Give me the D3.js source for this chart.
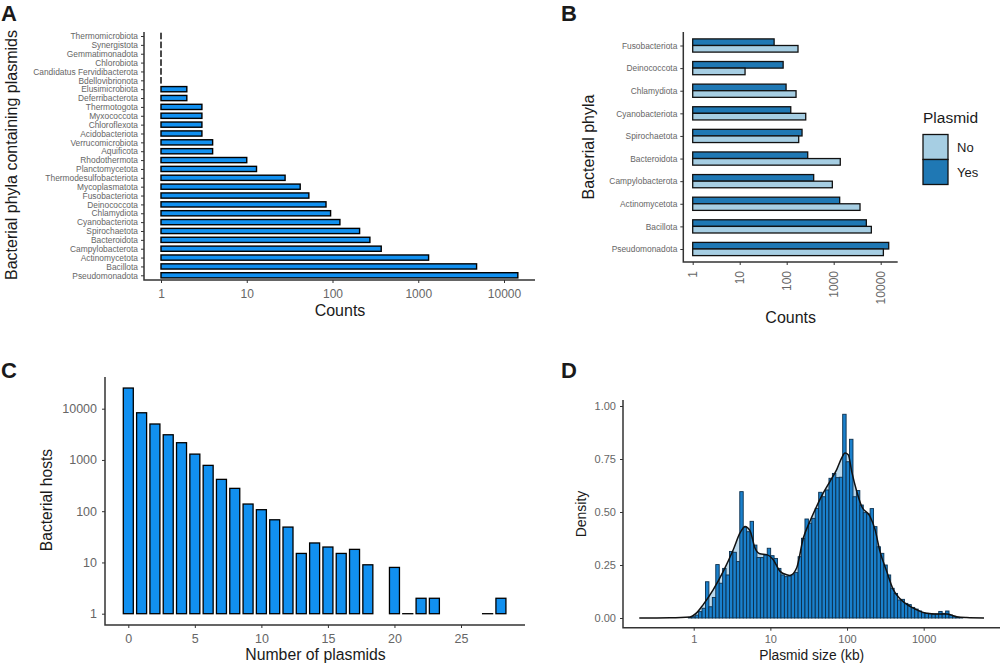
<!DOCTYPE html>
<html>
<head>
<meta charset="utf-8">
<script src="https://cdn.jsdelivr.net/npm/d3@7"></script>
<style>
  html, body { margin: 0; padding: 0; background: #fff; }
  svg { display: block; }
  text { font-family: "Liberation Sans", Arial, sans-serif; }
</style>
</head>
<body>
<svg id="fig" width="1000" height="663"></svg>
<script>
// panel A
const phylaA = ['Thermomicrobiota', 'Synergistota', 'Gemmatimonadota', 'Chlorobiota',
  'Candidatus Fervidibacterota', 'Bdellovibrionota', 'Elusimicrobiota', 'Deferribacterota',
  'Thermotogota', 'Myxococcota', 'Chloroflexota', 'Acidobacteriota', 'Verrucomicrobiota',
  'Aquificota', 'Rhodothermota', 'Planctomycetota', 'Thermodesulfobacteriota', 'Mycoplasmatota',
  'Fusobacteriota', 'Deinococcota', 'Chlamydiota', 'Cyanobacteriota', 'Spirochaetota',
  'Bacteroidota', 'Campylobacterota', 'Actinomycetota', 'Bacillota', 'Pseudomonadota']
const countsA = [1, 1, 1, 1, 1, 1, 2, 2, 3, 3, 3, 3, 4, 4, 10, 13, 28, 42, 53, 84, 95, 122, 207,
  273, 370, 1320, 4790, 14500]

// panel B
const phylaB = ['Fusobacteriota', 'Deinococcota', 'Chlamydiota', 'Cyanobacteriota', 'Spirochaetota',
  'Bacteroidota', 'Campylobacterota', 'Actinomycetota', 'Bacillota', 'Pseudomonadota']
const countsYes = [54, 84, 97, 122, 212, 280, 375, 1340, 4950, 14800]
const countsNo = [174, 13, 158, 254, 180, 1380, 935, 3630, 6320, 11400]

// panel C
const plasmidNumber = [0, 1, 2, 3, 4, 5, 6, 7, 8, 9, 10, 11, 12, 13, 14, 15, 16, 17, 18, 20, 21, 22, 23, 27, 28]
const hostCounts = [25300, 8330, 5030, 3100, 2170, 1300, 784, 418, 279, 138, 107, 68, 49, 15, 24, 20,
  15, 18, 9, 8, 1, 2, 2, 1, 2]

// panel D, histogram bins (log10 kb, left edge of the first bin and bin width)
const firstBinLog = -0.07
const binWidthLog = 0.04474
const binDensity = [.003, .006, .014, .030, .046, .171, .053, .097, .252, .164, .234, .203, .314, .310,
  .266, .596, .428, .407, .456, .344, .285, .285, .297, .329, .294, .281, .234, .203, .195, .198, .204,
  .214, .289, .376, .467, .447, .470, .517, .593, .572, .604, .659, .682, .662, .664, .961, .737, .843,
  .572, .601, .533, .497, .491, .516, .431, .336, .305, .250, .203, .140, .116, .085, .088, .069, .063,
  .050, .042, .033, .025, .022, .020, .017, .019, .031, .022, .033, .014, .008, .003, .002]
const curveSize = [0.195, 0.49, 0.895, 1.09, 1.33, 1.8, 2.43, 3.28, 4.02, 4.67, 5.42, 6.3, 7.3, 8.96, 10.9,
  13.4, 16.3, 18, 22, 26.9, 32.8, 40.2, 49, 60, 73.3, 85.2, 94, 103.8, 115, 134, 155, 199, 232, 269, 329,
  401, 491, 662, 811, 1094, 1476, 1995, 2692, 3631, 6124]
const curveDensity = [0, .001, .005, .024, .063, .134, .220, .322, .401, .432, .412, .330, .303, .299, .275,
  .220, .204, .201, .236, .377, .456, .527, .590, .645, .700, .755, .778, .770, .692, .597, .527, .480,
  .417, .314, .220, .134, .091, .055, .039, .022, .019, .019, .006, .002, 0]

const logTicks = [1, 10, 100, 1000, 10000]
const axisColor = '#333333'
const tickTextColor = '#666666'
const titleColor = '#1a1a1a'
const barBlue = '#1190f0'

const svg = d3.select('#fig')
svg.append('rect').attr('width', 1000).attr('height', 663).attr('fill', '#fff')

// draws the two axis lines of a panel, L shaped like theme_classic
function axisLines(x0, x1, yTop, yBottom) {
  svg.append('path')
    .attr('d', `M${x0},${yTop}V${yBottom}H${x1}`)
    .attr('fill', 'none')
    .attr('stroke', axisColor)
    .attr('stroke-width', 1.5)
}

function styleAxis(g, fontSize) {
  g.select('.domain').remove()
  g.selectAll('.tick line').attr('stroke', axisColor).attr('stroke-width', 1)
  g.selectAll('.tick text')
    .attr('fill', tickTextColor)
    .attr('font-size', fontSize)
    .attr('font-family', '"Liberation Sans", Arial, sans-serif')
}

function label(txt, x, y, size, opts = {}) {
  return svg.append('text')
    .attr('transform', `translate(${x},${y})` + (opts.rotate ? ' rotate(-90)' : ''))
    .attr('text-anchor', opts.anchor || 'middle')
    .attr('font-size', size)
    .attr('font-weight', opts.weight || 'normal')
    .attr('fill', opts.fill || titleColor)
    .text(txt)
}

// panel letters
label('A', 1, 21, 22, { anchor: 'start', weight: 'bold' })
label('B', 561, 21, 22, { anchor: 'start', weight: 'bold' })
label('C', 1, 378, 22, { anchor: 'start', weight: 'bold' })
label('D', 561, 378, 22, { anchor: 'start', weight: 'bold' })

// ---- A ----
const xA = d3.scaleLog().domain([1, 10000]).range([161, 504])
const yA = d3.scalePoint().domain(phylaA).range([36, 275.3])

// bars at a count of 1 have no length, a zero width rect would not paint its stroke
svg.append('g')
  .selectAll('rect')
  .data(phylaA)
  .join('rect')
  .attr('x', xA(1))
  .attr('y', (d) => yA(d) - 2.6)
  .attr('width', (d, i) => Math.max(0.01, xA(countsA[i]) - xA(1)))
  .attr('height', 5.2)
  .attr('fill', barBlue)
  .attr('stroke', '#000')
  .attr('stroke-width', 1.4)

axisLines(144, 535, 32, 280)
svg.append('g')
  .attr('transform', 'translate(0,280)')
  .call(d3.axisBottom(xA).tickValues(logTicks).tickFormat(d3.format('d')).tickSize(3).tickPadding(6))
  .call(styleAxis, 12)
svg.append('g')
  .attr('transform', 'translate(144,0)')
  .call(d3.axisLeft(yA).tickSize(3).tickPadding(3))
  .call(styleAxis, 8.4)
label('Counts', 340, 316, 16)
label('Bacterial phyla containing plasmids', 17, 155, 16, { rotate: true })

// ---- B ----
const xB = d3.scaleLog().domain([1, 10000]).range([692.7, 880.7])
const yB = d3.scalePoint().domain(phylaB).range([45.5, 249])

const groupsB = svg.append('g')
  .selectAll('g')
  .data(phylaB)
  .join('g')
  .attr('transform', (d) => `translate(0,${yB(d)})`)
groupsB.append('rect')
  .attr('x', xB(1))
  .attr('y', -6.6)
  .attr('width', (d, i) => xB(countsYes[i]) - xB(1))
  .attr('height', 6.6)
  .attr('fill', '#1F78B4')
  .attr('stroke', '#111')
  .attr('stroke-width', 1.3)
groupsB.append('rect')
  .attr('x', xB(1))
  .attr('y', 0)
  .attr('width', (d, i) => xB(countsNo[i]) - xB(1))
  .attr('height', 6.6)
  .attr('fill', '#A6CEE3')
  .attr('stroke', '#111')
  .attr('stroke-width', 1.3)

axisLines(683.3, 897.7, 32, 262)
svg.append('g')
  .attr('transform', 'translate(0,262)')
  .call(d3.axisBottom(xB).tickValues(logTicks).tickFormat(d3.format('d')).tickSize(3))
  .call(styleAxis, 12)
  .selectAll('.tick text')
  .attr('transform', 'rotate(-90)')
  .attr('text-anchor', 'end')
  .attr('x', -9)
  .attr('y', 0)
  .attr('dy', '0.35em')
svg.append('g')
  .attr('transform', 'translate(683.3,0)')
  .call(d3.axisLeft(yB).tickSize(3).tickPadding(3))
  .call(styleAxis, 8.4)
label('Counts', 790.7, 322.7, 16)
label('Bacterial phyla', 594, 147, 16, { rotate: true })

// legend
const legendItems = ['No', 'Yes']
const legendFill = d3.scaleOrdinal().domain(legendItems).range(['#A6CEE3', '#1F78B4'])
label('Plasmid', 923, 123, 15.5, { anchor: 'start' })
const legendB = svg.append('g')
  .selectAll('g')
  .data(legendItems)
  .join('g')
  .attr('transform', (d, i) => `translate(923,${134.5 + i * 25})`)
legendB.append('rect')
  .attr('width', 25)
  .attr('height', 25)
  .attr('fill', (d) => legendFill(d))
  .attr('stroke', '#111')
  .attr('stroke-width', 1.3)
legendB.append('text')
  .attr('x', 34)
  .attr('y', 17)
  .attr('font-size', 13)
  .attr('fill', titleColor)
  .text((d) => d)

// ---- C ----
const xC = d3.scaleLinear().domain([0, 25]).range([128.3, 461])
const yC = d3.scaleLog().domain([1, 10000]).range([613.7, 408.7])

svg.append('g')
  .selectAll('rect')
  .data(plasmidNumber)
  .join('rect')
  .attr('x', (d) => xC(d) - 5)
  .attr('y', (d, i) => yC(hostCounts[i]))
  .attr('width', 10)
  .attr('height', (d, i) => Math.max(0.01, yC(1) - yC(hostCounts[i])))
  .attr('fill', barBlue)
  .attr('stroke', '#000')
  .attr('stroke-width', 1.3)

axisLines(105, 525, 377, 625)
svg.append('g')
  .attr('transform', 'translate(0,625)')
  .call(d3.axisBottom(xC).tickValues([0, 5, 10, 15, 20, 25]).tickSize(3).tickPadding(6))
  .call(styleAxis, 12.5)
svg.append('g')
  .attr('transform', 'translate(105,0)')
  .call(d3.axisLeft(yC).tickValues(logTicks).tickFormat(d3.format('d')).tickSize(3).tickPadding(5))
  .call(styleAxis, 12.5)
label('Number of plasmids', 315.5, 660, 15.8)
label('Bacterial hosts', 52, 500, 15.6, { rotate: true })

// ---- D ----
const xD = d3.scaleLog().domain([1, 1000]).range([693.7, 923.7])
const yD = d3.scaleLinear().domain([0, 1]).range([618, 406])

const densityPoints = curveSize.map((s, i) => [s, curveDensity[i]])

svg.append('path')
  .datum(densityPoints)
  .attr('d', d3.area().x((d) => xD(d[0])).y0(yD(0)).y1((d) => yD(d[1])).curve(d3.curveMonotoneX))
  .attr('fill', '#bcd9ec')

svg.append('g')
  .selectAll('rect')
  .data(binDensity)
  .join('rect')
  .attr('x', (d, i) => xD(Math.pow(10, firstBinLog + i * binWidthLog)))
  .attr('y', (d) => yD(d))
  .attr('width', (d, i) => xD(Math.pow(10, firstBinLog + (i + 1) * binWidthLog)) - xD(Math.pow(10, firstBinLog + i * binWidthLog)))
  .attr('height', (d) => yD(0) - yD(d))
  .attr('fill', '#1a80cc')
  .attr('stroke', '#0b2f4d')
  .attr('stroke-width', 0.9)

svg.append('path')
  .datum(densityPoints)
  .attr('d', d3.line().x((d) => xD(d[0])).y((d) => yD(d[1])).curve(d3.curveMonotoneX))
  .attr('fill', 'none')
  .attr('stroke', '#111')
  .attr('stroke-width', 1.5)

axisLines(623, 1000, 400, 627.7)
svg.append('g')
  .attr('transform', 'translate(0,627.7)')
  .call(d3.axisBottom(xD).tickValues([1, 10, 100, 1000]).tickFormat(d3.format('d')).tickSize(3).tickPadding(5))
  .call(styleAxis, 11)
svg.append('g')
  .attr('transform', 'translate(623,0)')
  .call(d3.axisLeft(yD).tickValues([0, 0.25, 0.5, 0.75, 1]).tickFormat(d3.format('.2f')).tickSize(3).tickPadding(4))
  .call(styleAxis, 11)
label('Plasmid size (kb)', 811.7, 660, 13.8)
label('Density', 586, 514, 14, { rotate: true })
</script>
</body>
</html>
